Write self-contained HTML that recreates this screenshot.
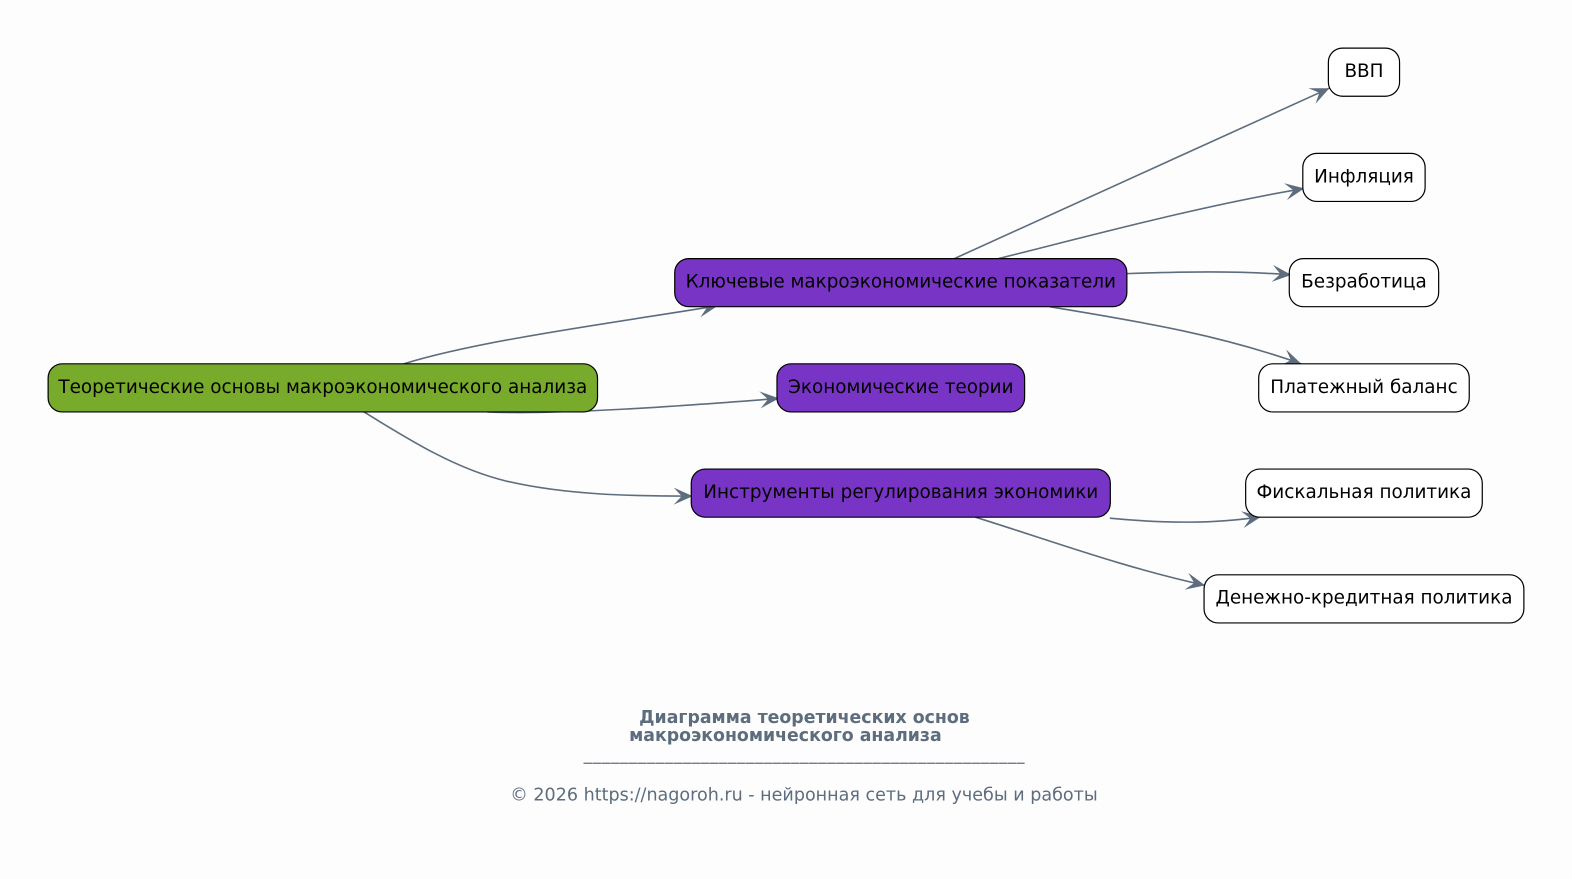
<!DOCTYPE html>
<html><head><meta charset="utf-8"><style>
html,body{margin:0;padding:0;background:#fdfdfd;width:1572px;height:879px;overflow:hidden}
svg{display:block}
text{font-family:"DejaVu Sans",sans-serif}
.n{font-size:18.35px;fill:#000;text-anchor:middle}
.e{fill:none;stroke:#5d6d7e;stroke-width:1.6;marker-end:url(#ah)}
.b{stroke:#000;stroke-width:1.2}
</style></head><body>
<svg width="1572" height="879" viewBox="0 0 1572 879" xmlns="http://www.w3.org/2000/svg">
<defs><marker id="ah" markerUnits="userSpaceOnUse" viewBox="-20 -10 21 20" refX="0" refY="0" markerWidth="21" markerHeight="20" orient="auto"><path d="M-19 -8.500L0 0L-19 8.500L-11 0Z" fill="#5d6d7e"/></marker></defs>
<rect width="1572" height="879" fill="#fdfdfd"/>
<g transform="scale(1.00255 1.00228)">
<path class="e" d="M403 363C480 339 620 321 716 305"/>
<path class="e" d="M486 411C560 414 680 405 777 397.500"/>
<path class="e" d="M363 411C410 440 455 468 505 480C565 494 630 495 691 495"/>
<path class="e" d="M952 258C1080 200 1200 145 1326 88"/>
<path class="e" d="M996 258C1100 232 1200 205 1301 188"/>
<path class="e" d="M1124 273C1180 271 1235 270 1288 274.300"/>
<path class="e" d="M1047 306C1130 320 1210 332 1298 363"/>
<path class="e" d="M1107 517C1160 522 1210 523 1258 515.500"/>
<path class="e" d="M973 516C1050 540 1120 566 1202 584"/>
<rect class="b" x="48" y="363" width="548" height="48" rx="14" fill="#78aa2c"/>
<rect class="b" x="673" y="258" width="451" height="48" rx="14" fill="#7834c4"/>
<rect class="b" x="775" y="363" width="247" height="48" rx="14" fill="#7834c4"/>
<rect class="b" x="689.500" y="468" width="418" height="48" rx="14" fill="#7834c4"/>
<rect class="b" x="1325" y="48" width="71" height="48" rx="14" fill="#fff"/>
<rect class="b" x="1299.500" y="153" width="122" height="48" rx="14" fill="#fff"/>
<rect class="b" x="1286" y="258" width="149" height="48" rx="14" fill="#fff"/>
<rect class="b" x="1255.500" y="363" width="210" height="48" rx="14" fill="#fff"/>
<rect class="b" x="1242.500" y="468" width="236" height="48" rx="14" fill="#fff"/>
<rect class="b" x="1201" y="573.500" width="319" height="48" rx="14" fill="#fff"/>
<text class="n" x="322" y="392">Теоретические основы макроэкономического анализа</text>
<text class="n" x="898.500" y="287">Ключевые макроэкономические показатели</text>
<text class="n" x="898.500" y="392">Экономические теории</text>
<text class="n" x="898.500" y="497">Инструменты регулирования экономики</text>
<text class="n" x="1360.500" y="77">ВВП</text>
<text class="n" x="1360.500" y="182">Инфляция</text>
<text class="n" x="1360.500" y="287">Безработица</text>
<text class="n" x="1360.500" y="392">Платежный баланс</text>
<text class="n" x="1360.500" y="497">Фискальная политика</text>
<text class="n" x="1360.500" y="602">Денежно-кредитная политика</text>
<text x="637.500" y="721.500" font-size="17.300" font-weight="700" fill="#5d6d7e">Диаграмма теоретических основ</text>
<text x="627.500" y="739.500" font-size="17.300" font-weight="700" fill="#5d6d7e">макроэкономического анализа</text>
<line x1="582" y1="761.500" x2="1022" y2="761.500" stroke="#5d6d7e" stroke-width="1.300" stroke-dasharray="8.700 0.300"/>
<text x="509" y="798.500" font-size="17.500" fill="#5d6d7e">© 2026 https://nagoroh.ru - нейронная сеть для учебы и работы</text>
</g>
</svg>
</body></html>
